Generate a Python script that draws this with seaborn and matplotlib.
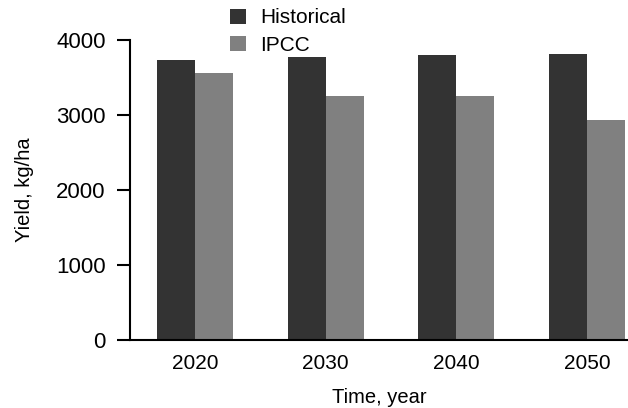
import pandas as pd
import matplotlib
matplotlib.use("Agg")
import matplotlib.pyplot as plt
import seaborn as sns

years = ["2020", "2030", "2040", "2050"]
historical = [3730, 3770, 3800, 3810]
ipcc = [3560, 3250, 3250, 2940]
series_names = ["Historical", "IPCC"]
colors = ["#333333", "#808080"]

df = pd.DataFrame({
    "year": years * 2,
    "yield": historical + ipcc,
    "scenario": [series_names[0]] * len(years) + [series_names[1]] * len(years),
})

sns.set_style("ticks")
plt.rcParams["font.family"] = ["Liberation Sans", "DejaVu Sans"]
plt.rcParams["text.color"] = "black"
plt.rcParams["axes.labelcolor"] = "black"

fig = plt.figure(figsize=(6.28, 4.08), dpi=100)
ax = fig.add_axes([130 / 628, (408 - 340) / 408, (628 - 130) / 628, 300 / 408])

sns.barplot(data=df, x="year", y="yield", hue="scenario", hue_order=series_names,
            palette=colors, width=0.58, gap=0, saturation=1, ax=ax, errorbar=None,
            linewidth=0)

ax.set_ylim(0, 4000)
ax.set_xlim(-0.496, 3.313)
ax.set_yticks([0, 1000, 2000, 3000, 4000])
ax.tick_params(axis="y", labelsize=16, length=9.5, width=1.5, pad=8, colors="black")
ax.tick_params(axis="x", labelsize=15, length=0, pad=10, colors="black")
ax.set_xlabel("Time, year", fontsize=14.5, labelpad=11)
ax.set_ylabel("Yield, kg/ha", fontsize=14.5, labelpad=16)
for side in ["top", "right"]:
    ax.spines[side].set_visible(False)
ax.spines["left"].set_linewidth(1.5)
ax.spines["bottom"].set_linewidth(1.5)
ax.spines["left"].set_color("black")
ax.spines["bottom"].set_color("black")

ax.legend(loc="upper left", bbox_to_anchor=(215 / 628, 1.015), bbox_transform=fig.transFigure,
          frameon=False, fontsize=15, handlelength=0.8, handleheight=0.75,
          handletextpad=0.65, labelspacing=0.4, borderpad=0.2)

fig.savefig("out.png", dpi=100)
plt.close(fig)
